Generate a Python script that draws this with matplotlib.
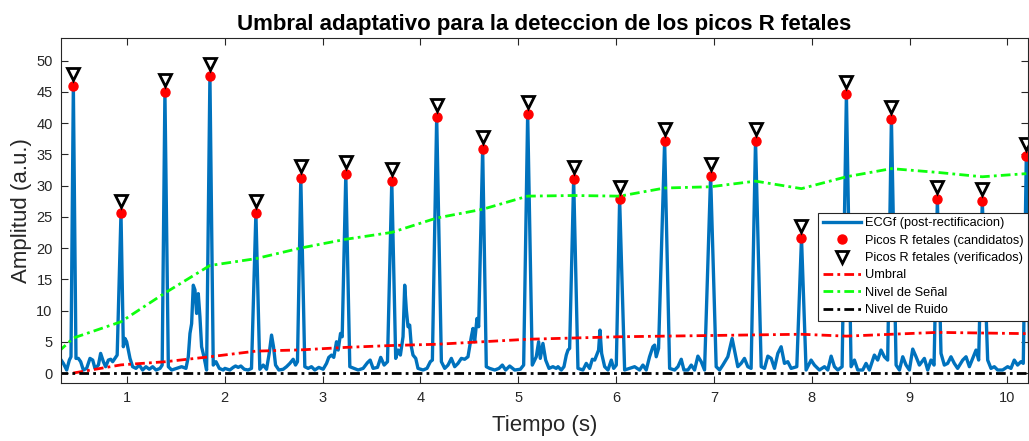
import matplotlib
matplotlib.use('Agg')
import matplotlib.pyplot as plt
import numpy as np

plt.rcParams['font.family'] = ['Liberation Sans', 'DejaVu Sans']

# Picos R fetales (tiempo en s, amplitud)
picos_t = [0.452, 0.939, 1.388, 1.848, 2.318, 2.777, 3.237, 3.707, 4.166, 4.636, 5.096,
           5.566, 6.036, 6.496, 6.966, 7.425, 7.895, 8.354, 8.814, 9.284, 9.743, 10.193]
picos_amp = [46.0, 25.6, 45.0, 47.6, 25.6, 31.2, 31.8, 30.7, 41.0, 35.9, 41.5,
             31.0, 27.8, 37.1, 31.6, 37.2, 21.6, 44.6, 40.7, 27.8, 27.5, 34.7]

# Umbral / niveles en cada pico
umbral = [0.0, 1.3, 1.8, 2.6, 3.5, 3.7, 4.1, 4.4, 4.6, 5.0, 5.4,
          5.6, 5.8, 5.9, 6.0, 6.1, 6.2, 5.9, 6.2, 6.5, 6.4, 6.3]
nivel_senal = [5.6, 8.2, 12.8, 17.2, 18.3, 20.0, 21.4, 22.5, 24.8, 26.2, 28.3,
               28.4, 28.3, 29.6, 29.8, 30.7, 29.5, 31.4, 32.7, 32.1, 31.4, 31.9]
nivel_ruido = [0.0] * len(picos_t)
t_inicio = 0.30
senal_inicio = 3.4
ruido_inicio = 0.0

# Linea base del ECGf (entre picos)
base_t = [0.300, 0.316, 0.350, 0.384, 0.411, 0.428, 0.479, 0.503, 0.527, 0.554, 0.588,
          0.622, 0.650, 0.673, 0.708, 0.731, 0.759, 0.782, 0.810, 0.834, 0.854, 0.871,
          0.900, 0.963, 0.980, 0.997, 1.014, 1.031, 1.058, 1.092, 1.126, 1.160, 1.194,
          1.228, 1.263, 1.297, 1.338, 1.360, 1.423, 1.457, 1.508, 1.559, 1.603, 1.627,
          1.644, 1.661, 1.678, 1.695, 1.712, 1.729, 1.746, 1.763, 1.787, 1.814, 1.882,
          1.910, 1.944, 1.984,
          2.001, 2.052, 2.086, 2.110, 2.137, 2.164, 2.199, 2.239, 2.273, 2.358, 2.393,
          2.427, 2.454, 2.478, 2.498, 2.519, 2.553, 2.597, 2.631, 2.665, 2.699, 2.723,
          2.743, 2.818, 2.852, 2.886, 2.920, 2.961, 3.005, 3.040, 3.063, 3.091, 3.114,
          3.142, 3.159, 3.183, 3.200, 3.278, 3.322, 3.363, 3.414, 3.458, 3.486, 3.516,
          3.561, 3.594, 3.629, 3.663,
          3.747, 3.771, 3.795, 3.822, 3.839, 3.856, 3.873, 3.890, 3.907, 3.924, 3.952,
          3.975, 4.027, 4.067, 4.101, 4.122, 4.214, 4.248, 4.282, 4.316, 4.350, 4.384,
          4.418, 4.452, 4.486, 4.520, 4.537, 4.554, 4.578, 4.595, 4.673, 4.707, 4.759,
          4.803, 4.837, 4.871, 4.912, 4.963, 5.021, 5.055, 5.143, 5.184, 5.208, 5.225,
          5.252, 5.280, 5.314, 5.354, 5.388,
          5.406, 5.440, 5.467, 5.491, 5.508, 5.525, 5.610, 5.661, 5.695, 5.729, 5.757,
          5.781, 5.804, 5.821, 5.835, 5.852, 5.883, 5.917, 5.951, 5.975, 6.002, 6.087,
          6.138, 6.189, 6.240, 6.274, 6.308, 6.342, 6.376, 6.394, 6.410, 6.434, 6.547,
          6.598, 6.632, 6.666, 6.693, 6.734, 6.768, 6.802, 6.836, 6.870, 6.904, 7.023,
          7.058,
          7.091, 7.142, 7.186, 7.210, 7.244, 7.278, 7.312, 7.346, 7.380, 7.483, 7.517,
          7.551, 7.585, 7.619, 7.653, 7.687, 7.721, 7.755, 7.789, 7.847, 7.942, 7.993,
          8.027, 8.078, 8.130, 8.164, 8.198, 8.232, 8.266, 8.310, 8.402, 8.436, 8.470,
          8.521, 8.555, 8.589, 8.640, 8.674, 8.708, 8.742, 8.776, 8.862, 8.896, 8.930,
          8.964, 8.998, 9.032, 9.066, 9.100, 9.151, 9.185, 9.219, 9.250, 9.321, 9.355,
          9.389, 9.423, 9.457, 9.491, 9.543, 9.577, 9.611, 9.645, 9.679, 9.706, 9.798,
          9.832, 9.866, 9.900, 9.951, 10.002, 10.036, 10.070, 10.104, 10.138, 10.162,
          10.230]
base_v = [2.0, 2.34, 1.54, 0.48, 2.07, 2.6, 2.34, 2.34, 1.81, 0.48, 0.74,
          2.34, 2.07, 0.74, 1.27, 3.14, 1.81, 1.01, 2.07, 2.2, 1.81, 2.2,
          2.87, 4.2, 5.53, 5.0, 3.67, 2.34, 1.01, 0.74, 1.27, 0.48, 1.01,
          0.6, 1.01, 0.48, 0.74, 1.27, 1.01, 0.48, 0.74, 1.01, 0.74, 2.6,
          6.33, 7.9, 14.05, 13.3, 9.53, 12.7, 9.0, 4.2, 2.6, 0.48, 1.27,
          1.81, 0.74, 0.48,
          0.74, 0.48, 0.9, 1.12, 0.9, 1.12, 0.6, 0.48, 0.74, 0.6, 1.27,
          0.6, 3.14, 6.07, 4.2, 1.27, 0.48, 0.6, 1.01, 1.54, 2.2, 1.27,
          1.81, 1.01, 0.74, 1.01, 0.48, 0.9, 0.6, 1.54, 2.5, 2.87, 2.5,
          5.0, 3.67, 6.33, 5.8, 1.01, 0.74, 0.48, 0.74, 1.65, 2.07, 0.74,
          0.9, 2.5, 1.27, 1.81,
          2.34, 3.67, 2.87, 5.8, 14.05, 10.06, 7.4, 7.66, 4.2, 2.87, 2.34,
          0.74, 0.48, 0.74, 1.81, 2.07, 1.81, 0.74, 1.27, 2.34, 1.01, 1.54,
          2.34, 2.2, 2.6, 5.8, 7.13, 5.0, 8.73, 7.4, 1.01, 0.74, 0.48,
          0.74, 1.27, 0.48, 1.12, 0.48, 0.6, 1.27, 1.27, 2.6, 5.0, 2.34,
          4.74, 2.07, 0.74, 1.01, 0.74,
          1.01, 0.48, 1.01, 2.87, 3.67, 3.94, 0.74, 0.48, 1.54, 0.74, 2.2,
          2.07, 3.0, 3.67, 6.87, 3.14, 1.01, 0.48, 2.07, 0.74, 1.27, 0.48,
          0.74, 1.01, 0.48, 1.27, 0.48, 2.6, 4.2, 4.47, 2.6, 3.94, 0.74,
          0.48, 1.01, 2.2, 0.48, 0.48, 1.27, 0.48, 2.7, 1.81, 0.48, 1.01,
          0.48,
          1.27, 2.6, 5.53, 3.67, 1.01, 1.54, 2.34, 1.01, 0.74, 1.01, 0.74,
          2.7, 2.34, 0.74, 3.14, 4.2, 1.54, 1.81, 0.74, 1.01, 0.48, 2.07,
          1.27, 0.48, 1.01, 0.48, 2.7, 1.01, 0.48, 1.01, 1.01, 2.07, 0.48,
          0.48, 1.54, 0.48, 2.87, 2.07, 3.67, 2.6, 2.07, 1.27, 0.48, 2.6,
          1.27, 0.48, 3.83, 2.6, 1.27, 2.34, 0.48, 2.07, 1.27, 3.14, 1.27,
          1.54, 2.6, 1.54, 0.74, 2.07, 2.6, 1.01, 2.34, 3.67, 2.07, 2.07,
          0.74, 1.01, 0.48, 0.48, 1.01, 0.74, 2.07, 1.27, 1.81, 1.54,
          1.0]

# ECGf = linea base + picos R, ordenados en el tiempo
t_ecg = np.concatenate([base_t, picos_t])
v_ecg = np.concatenate([base_v, picos_amp])
orden = np.argsort(t_ecg)
t_ecg, v_ecg = t_ecg[orden], v_ecg[orden]

desfase_verif = 1.9  # marcador de verificados sobre el pico

fig = plt.figure(figsize=(10.29, 4.41), dpi=100)
ax = fig.add_axes([0.0593, 0.1315, 0.9397, 0.7823])

dashdot = (0, (3.5, 1.5, 1.0, 1.5))
ax.plot(t_ecg, v_ecg, color=(0, 0.447, 0.741), lw=2.4, label='ECGf (post-rectificacion)')
ax.plot(picos_t, picos_amp, 'o', color='red', ms=6.5, mec='red',
        label='Picos R fetales (candidatos)')
ax.plot(picos_t, np.array(picos_amp) + desfase_verif, 'v', ms=8, mfc='white', mec='black',
        mew=2.0, label='Picos R fetales (verificados)')
ax.plot(picos_t, umbral, color='red', lw=2.0, ls=dashdot, label='Umbral')
ax.plot([t_inicio] + picos_t, [senal_inicio] + nivel_senal, color=(0.05, 1.0, 0.05), lw=2.0,
        ls=dashdot, label='Nivel de Señal')
ax.plot([t_inicio] + picos_t, [ruido_inicio] + nivel_ruido, color='black', lw=2.0,
        ls=dashdot, label='Nivel de Ruido')

ax.set_xlim(0.326, 10.21)
ax.set_ylim(-1.6, 53.6)
ax.set_xticks(range(1, 11))
ax.set_yticks(range(0, 51, 5))

grey = (0.15, 0.15, 0.15)
for s in ax.spines.values():
    s.set_color(grey)
    s.set_linewidth(0.8)
ax.tick_params(direction='in', top=True, right=True, length=5, width=0.8,
               colors=grey, labelsize=10.5, pad=6)

ax.set_title('Umbral adaptativo para la deteccion de los picos R fetales',
             fontsize=16, fontweight='bold', pad=6)
ax.set_xlabel('Tiempo (s)', fontsize=16, color=grey, labelpad=7)
ax.set_ylabel('Amplitud (a.u.)', fontsize=16, color=grey, labelpad=3)

leg = ax.legend(loc='upper left', bbox_to_anchor=(0.783, 0.493), fontsize=9.2,
                handlelength=3.0, labelspacing=0.42, borderpad=0.35, handletextpad=0.3,
                fancybox=False, framealpha=1, edgecolor=grey, borderaxespad=0)
leg.get_frame().set_linewidth(0.8)

plt.savefig('out.png', dpi=100)
